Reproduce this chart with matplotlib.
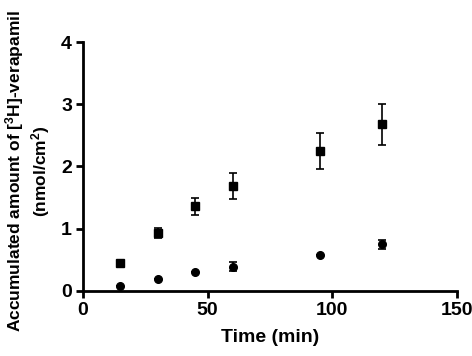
import numpy as np
import matplotlib
matplotlib.use("Agg")
import matplotlib.pyplot as plt

plt.rcParams['font.family'] = 'Liberation Sans'
plt.rcParams['font.weight'] = 'bold'
plt.rcParams['mathtext.fontset'] = 'custom'
plt.rcParams['mathtext.rm'] = 'Liberation Sans:bold'
plt.rcParams['mathtext.it'] = 'Liberation Sans:bold'
plt.rcParams['mathtext.bf'] = 'Liberation Sans:bold'

# datos
time = [15, 30, 45, 60, 95, 120]
sq_mean = [0.45, 0.93, 1.36, 1.69, 2.25, 2.68]
sq_err = [0.0, 0.08, 0.14, 0.21, 0.29, 0.33]
ci_mean = [0.08, 0.19, 0.30, 0.39, 0.57, 0.75]
ci_err = [0.0, 0.0, 0.0, 0.07, 0.0, 0.07]

fig = plt.figure(figsize=(4.72, 3.56), dpi=100)
ax = fig.add_axes([0.176, 0.183, 0.792, 0.699])

ax.errorbar(time, sq_mean, yerr=sq_err, fmt='s', color='black', ms=5.5,
            capsize=3, elinewidth=1.2, capthick=1.2, clip_on=False)
ax.errorbar(time, ci_mean, yerr=ci_err, fmt='o', color='black', ms=5.5,
            capsize=3, elinewidth=1.2, capthick=1.2, clip_on=False)

ax.set_xlim(0, 150)
ax.set_ylim(0, 4)
ax.set_xticks([0, 50, 100, 150])
ax.set_yticks([0, 1, 2, 3, 4])
for s in ['top', 'right']:
    ax.spines[s].set_visible(False)
for s in ['left', 'bottom']:
    ax.spines[s].set_linewidth(2)
ax.tick_params(width=2, length=5, labelsize=14, pad=3)

ax.set_xlabel('Time (min)', fontsize=14, fontweight='bold', labelpad=7)
ax.set_ylabel('Accumulated amount of [$^{3}$H]-verapamil\n(nmol/cm$^{2}$)',
              fontsize=12.5, fontweight='bold', linespacing=1.2)
ax.yaxis.set_label_coords(-0.082, 0.48)

fig.savefig('out.png', dpi=100)
